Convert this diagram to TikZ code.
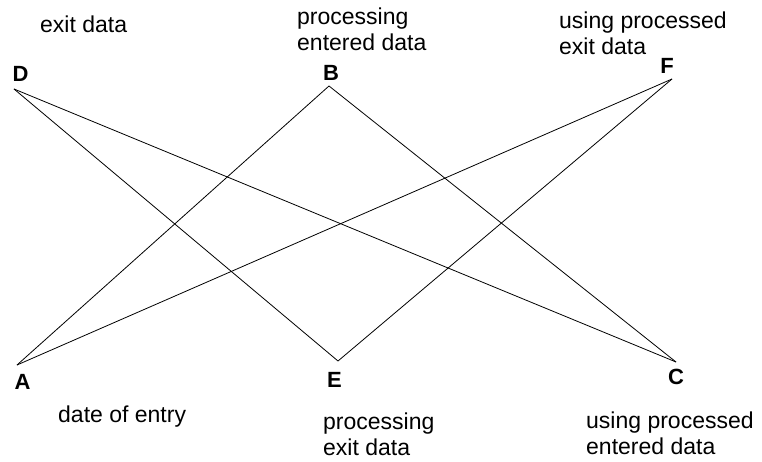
\documentclass[tikz,border=0pt]{standalone}
\usepackage{fontspec}
\setmainfont{Liberation Sans}
\begin{document}
\begin{tikzpicture}[x=1pt,y=-1pt,
  txt/.style={anchor=base west,inner sep=0pt,align=left,font=\fontsize{23}{26}\selectfont},
  letter/.style={inner sep=0pt,font=\fontsize{22}{26}\selectfont\bfseries},
  edge/.style={draw=black,line width=0.8pt}]
\useasboundingbox (0,0) rectangle (762,462);
% vertices
\coordinate (D) at (14,89);
\coordinate (B) at (329,86);
\coordinate (F) at (672,79);
\coordinate (A) at (17,365);
\coordinate (E) at (338,361);
\coordinate (C) at (676,362);
% vertex letters
\node[letter] (lD) at (20.5,73.5) {D};
\node[letter] (lB) at (331,73) {B};
\node[letter] (lF) at (667,65.5) {F};
\node[letter] (lA) at (22.5,381.5) {A};
\node[letter] (lE) at (334.5,379.5) {E};
\node[letter] (lC) at (676,376.5) {C};
% descriptions (base = baseline of last line)
\node[txt] (tD) at (40,33) {exit data};
\node[txt] (tB) at (297,51) {processing\\entered data};
\node[txt] (tF) at (559,55) {using processed\\exit data};
\node[txt] (tA) at (58,422) {date of entry};
\node[txt] (tE) at (323,455) {processing\\exit data};
\node[txt] (tC) at (586,454) {using processed\\entered data};
% connectors
\draw[edge] (D) -- (E);
\draw[edge] (D) -- (C);
\draw[edge] (B) -- (A);
\draw[edge] (B) -- (C);
\draw[edge] (F) -- (A);
\draw[edge] (F) -- (E);
\end{tikzpicture}
\end{document}
